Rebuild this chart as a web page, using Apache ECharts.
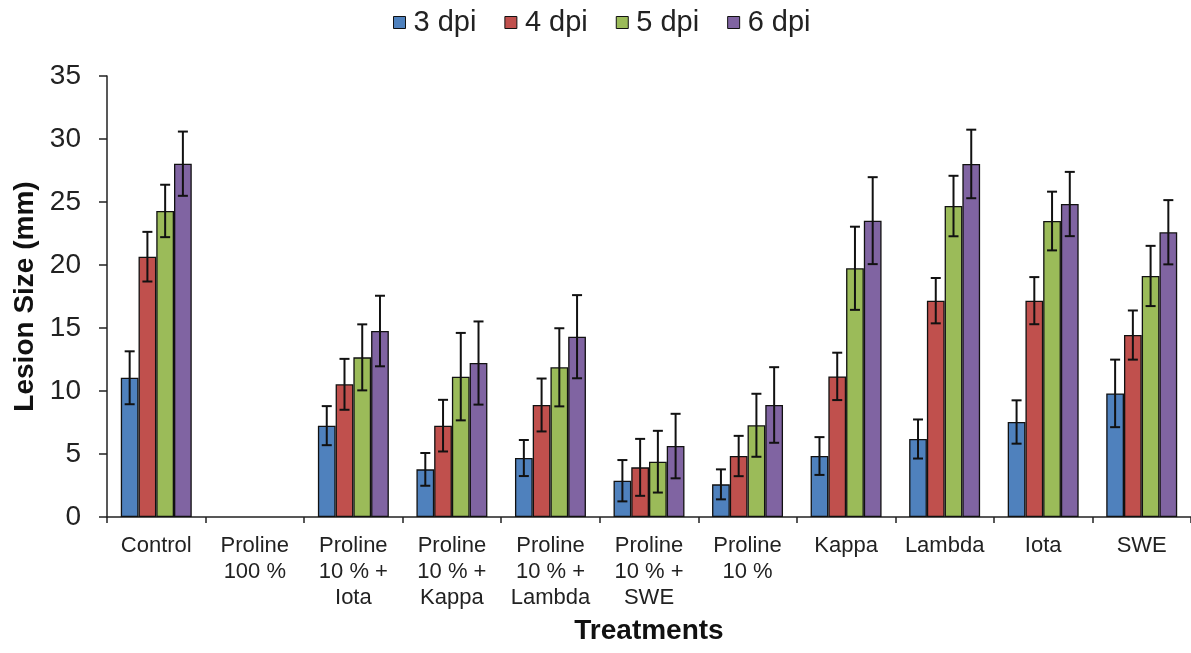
<!DOCTYPE html>
<html>
<head>
<meta charset="utf-8">
<script src="https://cdn.jsdelivr.net/npm/echarts@6/dist/echarts.min.js"></script>
<style>html,body{margin:0;padding:0;background:#fff}#c{width:1191px;height:653px}</style>
</head>
<body>
<div id="c"></div>
<script>
var categories = ['Control', 'Proline\n100 %', 'Proline\n10 % +\nIota', 'Proline\n10 % +\nKappa', 'Proline\n10 % +\nLambda', 'Proline\n10 % +\nSWE', 'Proline\n10 %', 'Kappa', 'Lambda', 'Iota', 'SWE'];
var seriesNames = ['3 dpi', '4 dpi', '5 dpi', '6 dpi'];
var dpi3 = [11.05, 0, 7.25, 3.78, 4.68, 2.88, 2.59, 4.84, 6.19, 7.54, 9.81];
var err3 = [2.1, 0, 1.55, 1.3, 1.43, 1.64, 1.19, 1.5, 1.55, 1.72, 2.68];
var dpi4 = [20.66, 0, 10.53, 7.25, 8.89, 3.94, 4.84, 11.16, 17.17, 17.17, 14.44];
var err4 = [1.97, 0, 2.02, 2.05, 2.1, 2.26, 1.6, 1.88, 1.8, 1.87, 1.95];
var dpi5 = [24.29, 0, 12.67, 11.14, 11.88, 4.39, 7.28, 19.74, 24.68, 23.49, 19.13];
var err5 = [2.08, 0, 2.62, 3.47, 3.1, 2.45, 2.5, 3.3, 2.4, 2.33, 2.39];
var dpi6 = [28.04, 0, 14.76, 12.22, 14.31, 5.63, 8.89, 23.52, 28.02, 24.84, 22.6];
var err6 = [2.55, 0, 2.8, 3.3, 3.3, 2.56, 3.0, 3.45, 2.72, 2.55, 2.55];
var yTicks = [0, 5, 10, 15, 20, 25, 30, 35];

var values = [dpi3, dpi4, dpi5, dpi6];
var errors = [err3, err4, err5, err6];
var colors = ['#4F81BD', '#C0504D', '#9BBB59', '#8064A2'];
var font = "'Liberation Sans', Arial, sans-serif";
var catGap = 0.28;

var series = [];
values.forEach(function (vals, k) {
  series.push({
    name: seriesNames[k], type: 'bar',
    data: vals.map(function (v) {
      return v === 0 ? { value: v, itemStyle: { borderWidth: 0 } } : v;
    }),
    barGap: '0%', barCategoryGap: (catGap * 100) + '%',
    itemStyle: { color: colors[k], borderColor: '#111', borderWidth: 1.3 },
    z: 2
  });
});
values.forEach(function (vals, k) {
  var d = vals.map(function (v, i) { return [i, v, errors[k][i]]; });
  series.push({
    type: 'custom', name: 'err' + k, data: d, z: 5,
    encode: { x: 0, y: 1 },
    renderItem: function (params, api) {
      var i = api.value(0), v = api.value(1), e = api.value(2);
      if (!e) return null;
      var band = api.size([1, 0])[0];
      var bw = band * (1 - catGap) / 4;
      var cx = api.coord([i, v])[0] + (k - 1.5) * bw;
      var yt = api.coord([i, v + e])[1];
      var yb = api.coord([i, v - e])[1];
      var hw = 5;
      var st = { stroke: '#111', lineWidth: 2 };
      return { type: 'group', children: [
        { type: 'line', shape: { x1: cx, y1: yt, x2: cx, y2: yb }, style: st },
        { type: 'line', shape: { x1: cx - hw, y1: yt, x2: cx + hw, y2: yt }, style: st },
        { type: 'line', shape: { x1: cx - hw, y1: yb, x2: cx + hw, y2: yb }, style: st }
      ]};
    }
  });
});

var chart = echarts.init(document.getElementById('c'));
chart.setOption({
  animation: false,
  backgroundColor: '#fff',
  textStyle: { fontFamily: font },
  legend: {
    data: seriesNames, top: 3, left: 388,
    itemWidth: 12, itemHeight: 12, itemGap: 28,
    icon: 'rect',
    itemStyle: { borderColor: '#111', borderWidth: 1 },
    textStyle: { fontSize: 29, color: '#222', fontFamily: font, padding: [0, 0, 0, 3] }
  },
  grid: { left: 107, top: 76, width: 1090, height: 441, containLabel: false },
  xAxis: {
    type: 'category', data: categories,
    name: 'Treatments', nameLocation: 'middle', nameGap: 100,
    nameTextStyle: { fontSize: 28, fontWeight: 'bold', color: '#111', fontFamily: font },
    axisLine: { lineStyle: { color: '#222', width: 1.5 } },
    axisTick: { show: true, length: 6, inside: false, lineStyle: { color: '#222', width: 1.5 } },
    axisLabel: { fontSize: 22, color: '#222', lineHeight: 26, margin: 16, interval: 0, fontFamily: font }
  },
  yAxis: {
    type: 'value', min: 0, max: 35, interval: 5,
    name: 'Lesion Size (mm)', nameLocation: 'middle', nameGap: 64, nameRotate: 90,
    nameTextStyle: { fontSize: 28, fontWeight: 'bold', color: '#111', fontFamily: font },
    axisLine: { show: true, lineStyle: { color: '#222', width: 1.5 } },
    axisTick: { show: true, length: 8, inside: false, lineStyle: { color: '#222', width: 1.5 } },
    splitLine: { show: false },
    axisLabel: { fontSize: 28, color: '#222', margin: 26, fontFamily: font,
      formatter: function (v) { return yTicks.indexOf(v) >= 0 ? String(v) : ''; } }
  },
  series: series
});
</script>
</body>
</html>
